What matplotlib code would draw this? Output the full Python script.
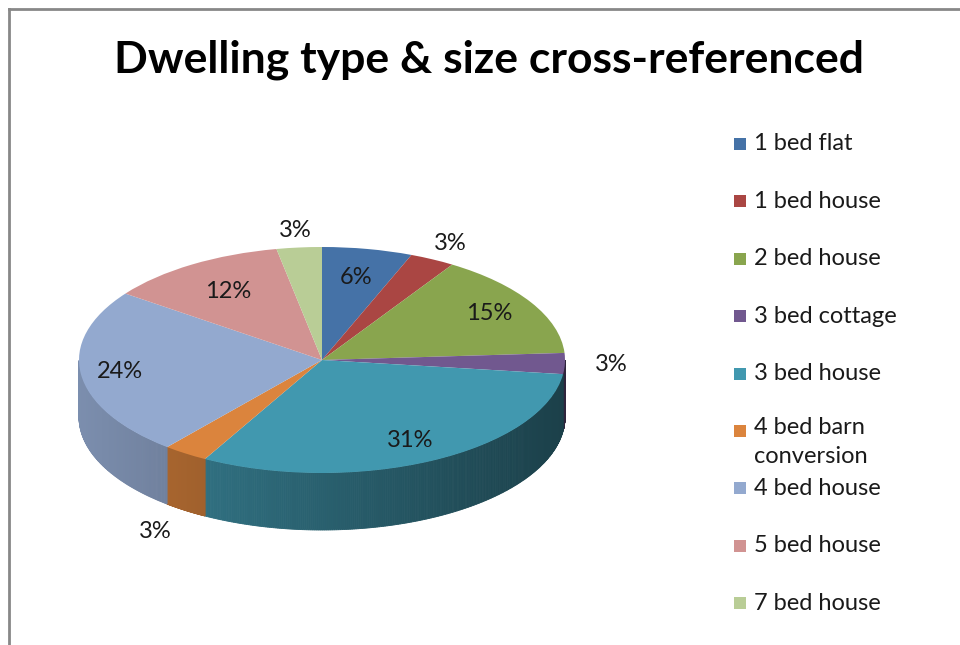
import numpy as np
import matplotlib
matplotlib.use("Agg")
import matplotlib.pyplot as plt
from matplotlib.patches import Polygon, Rectangle
from matplotlib.lines import Line2D

# ---- data ----
categories = ["1 bed flat", "1 bed house", "2 bed house", "3 bed cottage",
              "3 bed house", "4 bed barn\nconversion", "4 bed house",
              "5 bed house", "7 bed house"]
percent = [6, 3, 15, 3, 31, 3, 24, 12, 3]
colors = ["#4572A7", "#AA4643", "#89A54E", "#71588F", "#4198AF",
          "#DB843D", "#93A9CF", "#D19392", "#B9CD96"]
label_r = [0.74, 1.16, 0.80, 1.19, 0.80, 1.22, 0.84, 0.72, 1.15]
title = "Dwelling type & size cross-referenced"

W, H = 960, 645
fig = plt.figure(figsize=(W / 100, H / 100), dpi=100)
fig.patch.set_facecolor("white")

# pie geometry in pixels (layout)
cx, cy, rx, ry, depth = 322, 360, 243, 113, 57

ax = fig.add_axes([0, 0, 1, 1])
d = depth / ry

vals = np.array(percent, dtype=float)
frac = vals / vals.sum()
edges = np.concatenate([[0], np.cumsum(frac)])  # clockwise from top

def th(f):
    return np.pi / 2 - 2 * np.pi * f

def shade(c, x):
    rgb = np.array(matplotlib.colors.to_rgb(c))
    k = 0.63 - 0.21 * x
    return tuple(np.clip(rgb * k, 0, 1))

# side walls (front half only)
for i in range(len(vals)):
    t0, t1 = th(edges[i]), th(edges[i + 1])
    ts = np.linspace(t1, t0, 240)
    ts = ts[np.sin(ts) < 1e-9]
    if len(ts) < 2:
        continue
    for j in range(len(ts) - 1):
        a, b = ts[j], ts[j + 1]
        xs = [np.cos(a), np.cos(b), np.cos(b), np.cos(a)]
        ys = [np.sin(a), np.sin(b), np.sin(b) - d, np.sin(a) - d]
        col = shade(colors[i], 0.5 * (np.cos(a) + np.cos(b)))
        ax.add_patch(Polygon(list(zip(xs, ys)), closed=True, facecolor=col,
                             edgecolor=col, linewidth=0.6, zorder=1))

# top face via pie
wedges, _ = ax.pie(vals, colors=colors, startangle=90, counterclock=False,
                   radius=1.0, center=(0, 0), frame=True,
                   wedgeprops=dict(linewidth=0.5, edgecolor="none"))
for w in wedges:
    w.set_zorder(3)
ax.set_xlim(-cx / rx, (W - cx) / rx)
ax.set_ylim(-(H - cy) / ry, cy / ry)
ax.set_aspect("auto")
ax.axis("off")

# labels
for i in range(len(vals)):
    fm = 0.5 * (edges[i] + edges[i + 1])
    t = th(fm)
    r = label_r[i]
    x = r * np.cos(t)
    y = r * np.sin(t)
    if r > 1 and np.sin(t) < -0.3:
        y -= d
    ax.text(x, y, f"{percent[i]}%", ha="center", va="center",
            fontsize=17, family="Lato", color="#1a1a1a", zorder=5)

# title
fig.text(489 / W, 1 - 60 / H, title, ha="center", va="center",
         fontsize=32, fontweight="bold", family="Lato", color="black")

# legend
y0, dy = 144, 57.4
for i, lab in enumerate(categories):
    yp = y0 + i * dy
    fig.patches.append(Rectangle((734 / W, 1 - (yp + 6) / H), 12 / W, 12 / H,
                                 transform=fig.transFigure, facecolor=colors[i],
                                 edgecolor="none"))
    if "\n" in lab:
        fig.text(754 / W, 1 - (yp - 14) / H, lab, ha="left", va="top",
                 fontsize=17, family="Lato", color="#1a1a1a", linespacing=1.45)
    else:
        fig.text(754 / W, 1 - yp / H, lab, ha="left", va="center",
                 fontsize=17, family="Lato", color="#1a1a1a")

# chart-area border (left and top visible)
fig.lines.append(Line2D([9 / W, 9 / W], [0, 1 - 9 / H], transform=fig.transFigure,
                        color="#888888", linewidth=2))
fig.lines.append(Line2D([9 / W, 1], [1 - 9 / H, 1 - 9 / H], transform=fig.transFigure,
                        color="#888888", linewidth=2))

fig.savefig("out.png", dpi=100, facecolor="white")
